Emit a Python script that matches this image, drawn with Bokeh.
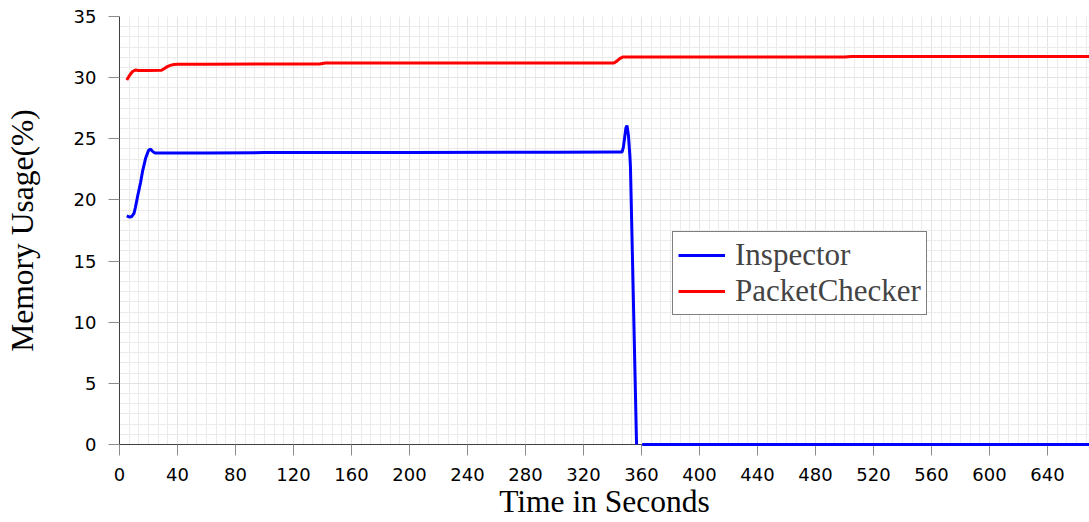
import math
from bokeh.plotting import figure
from bokeh.models import Range1d, SingleIntervalTicker, Legend, LegendItem
from bokeh.embed import file_html
from bokeh.resources import INLINE

# ---- data ----
inspector_t = [5, 7, 8.5, 10, 11, 12.5, 14.5, 16, 18, 20, 21.5, 23, 24.5, 30, 60, 100,
               200, 300, 345, 346.6, 347.5, 348.5, 349.3, 350, 351, 352, 352.4,
               353.5, 354.5, 355.5, 356.6, 358.5, 360.5, 400, 500, 600, 669]
inspector_mem = [18.7, 18.6, 18.65, 18.9, 19.4, 20.3, 21.4, 22.4, 23.4, 24.05, 24.15, 23.95,
                 23.83, 23.83, 23.83, 23.87, 23.88, 23.9, 23.92, 23.92, 24.3, 25.2, 25.9,
                 26.08, 25.3, 23.6, 22.7, 16.8, 11.4, 6.0, 0.0, float("nan"), 0.0, 0.0,
                 0.0, 0.0, 0.0]

checker_t = [5, 7, 9, 11, 13, 20, 29, 31, 33, 35, 37.5, 40, 60, 138, 142, 200, 300,
             341, 343, 345, 347, 350, 500, 505, 669]
checker_mem = [29.8, 30.2, 30.5, 30.62, 30.58, 30.58, 30.6, 30.75, 30.9, 31.0, 31.07,
               31.1, 31.1, 31.12, 31.2, 31.2, 31.2, 31.2, 31.35, 31.55, 31.68, 31.68,
               31.68, 31.72, 31.72]

series_names = ["Inspector", "PacketChecker"]
x_label = "Time in Seconds"
y_label = "Memory Usage(%)"

SERIF = "Liberation Serif"
SANS = "DejaVu Sans"

p = figure(width=1089, height=522, output_backend="svg", toolbar_location=None,
           x_range=Range1d(0, 669), y_range=Range1d(0, 35),
           min_border_left=119, min_border_right=0, min_border_top=16,
           min_border_bottom=78)
p.outline_line_color = None
p.background_fill_color = "white"

p.xaxis.ticker = SingleIntervalTicker(interval=40, num_minor_ticks=6)
p.yaxis.ticker = SingleIntervalTicker(interval=5, num_minor_ticks=6)

for ax in (p.xaxis, p.yaxis):
    ax.axis_line_color = "#404040"
    ax.axis_line_width = 1
    ax.major_tick_line_color = "#8c8c8c"
    ax.major_tick_out = 11
    ax.major_tick_in = 0
    ax.minor_tick_out = 0
    ax.minor_tick_in = 0
    ax.major_label_text_font = SANS
    ax.major_label_text_font_size = "18px"
    ax.major_label_text_color = "black"
    ax.axis_label_text_font = SERIF
    ax.axis_label_text_font_size = "31.5px"
    ax.axis_label_text_font_style = "normal"
    ax.axis_label_text_color = "black"

p.xaxis.axis_label = x_label
p.yaxis.axis_label = y_label
p.xaxis.major_label_standoff = 12
p.yaxis.major_label_standoff = 12
p.xaxis.axis_label_standoff = 0
p.yaxis.axis_label_standoff = 31

for g in (p.xgrid, p.ygrid):
    g.grid_line_color = "#e3e3e3"
    g.grid_line_width = 1
    g.minor_grid_line_color = "#ebebeb"
    g.minor_grid_line_width = 1

r1 = p.line(inspector_t, inspector_mem, line_color="#0000ff", line_width=3, level="overlay")
r2 = p.line(checker_t, checker_mem, line_color="#ff0000", line_width=3, level="overlay")

legend = Legend(items=[LegendItem(label=series_names[0], renderers=[r1]),
                       LegendItem(label=series_names[1], renderers=[r2])],
                location=(553, 129))
legend.label_text_font = SERIF
legend.label_text_font_size = "31px"
legend.label_height = 30
legend.glyph_height = 30
legend.glyph_width = 47
legend.label_standoff = 10
legend.spacing = -3
legend.padding = 5
legend.margin = 0
legend.border_line_color = "black"
legend.border_line_width = 1
legend.background_fill_alpha = 1
legend.background_fill_color = "white"
p.add_layout(legend, "center")

open("out.html", "w").write(file_html(p, INLINE))
